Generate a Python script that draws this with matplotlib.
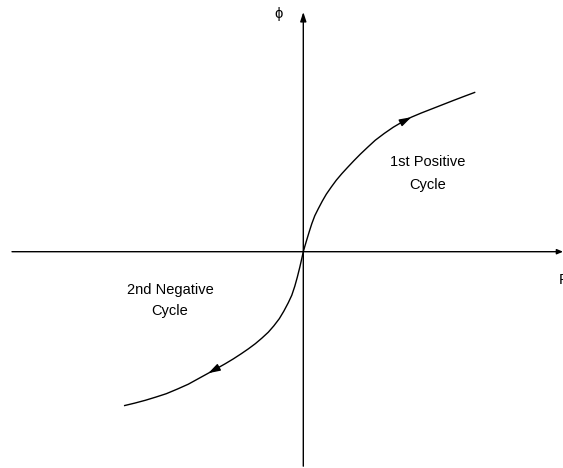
import matplotlib
matplotlib.use("Agg")
import matplotlib.pyplot as plt

plt.rcParams['font.family'] = ['Liberation Sans', 'DejaVu Sans']

# Magnetisation curve: flux (phi) against magnetomotive force (F)
pos_F = [0, 1.5, 3.5, 6, 8.5, 11.5, 15, 19, 23, 28, 33, 38.5, 44, 50.5, 57, 64.5,
         72, 81, 90, 99, 108, 118, 128, 139, 150, 161, 172]
pos_phi = [0, 5.3, 12, 20.2, 28, 36, 43, 50.6, 57.5, 64.7, 71.5, 78, 84, 90.9, 97.5, 104.6,
           111.5, 118.3, 124.5, 129.8, 134.5, 138.7, 142.6, 146.9, 151.2, 155.4, 159.5]

neg_F = [0, -1.5, -3.5, -6, -8.5, -11.5, -15, -19.5, -24, -29.5, -35, -41.5, -48, -55,
         -62, -70, -78, -86.5, -95, -105, -115, -126, -137, -147.5, -158, -168.5, -179.3]
neg_phi = [0, -6.8, -15.5, -25.5, -34.5, -43.5, -51, -59.5, -67, -74.2, -80.5, -86.5, -92,
           -97.2, -102, -107.2, -112, -116.8, -121.5, -127, -132.5, -137.4, -142, -145.4,
           -148.6, -151.4, -154]

# Direction markers (index of the point the arrow tip sits on)
pos_arrow_idx = 20
neg_arrow_idx = 18

labels = ["1st Positive\nCycle", "2nd Negative\nCycle"]
axis_labels = ["F", "\u03d5"]

fig = plt.figure(figsize=(5.63, 4.68), dpi=100)
ax = fig.add_axes([0, 0, 1, 1])
ax.set_xlim(-303.3, 259.7)
ax.set_ylim(-216.3, 251.7)
ax.axis('off')

lw = 1.0
# Axes with arrowheads
ax.annotate("", xy=(259.7, 0), xytext=(-291.3, 0),
            arrowprops=dict(arrowstyle="-|>,head_length=0.35,head_width=0.15",
                            lw=lw, color='black', shrinkA=0, shrinkB=0))
ax.annotate("", xy=(0, 239.7), xytext=(0, -214.5),
            arrowprops=dict(arrowstyle="-|>,head_length=0.55,head_width=0.18",
                            lw=lw, color='black', shrinkA=0, shrinkB=0))

# Curve branches
ax.plot(pos_F, pos_phi, color='black', lw=lw, solid_capstyle='butt')
ax.plot(neg_F, neg_phi, color='black', lw=lw, solid_capstyle='butt')

# Direction arrows along the curve
for F, P, i in ((pos_F, pos_phi, pos_arrow_idx), (neg_F, neg_phi, neg_arrow_idx)):
    ax.annotate("", xy=(F[i], P[i]), xytext=(F[i - 1], P[i - 1]),
                arrowprops=dict(arrowstyle="-|>,head_length=0.7,head_width=0.22",
                                lw=lw, color='black', shrinkA=0, shrinkB=0))

ax.text(124.7, 78.2, labels[0], ha='center', va='center', fontsize=10.5,
        linespacing=1.9, multialignment='center')
ax.text(-133.3, -48.8, labels[1], ha='center', va='center', fontsize=10.5,
        linespacing=1.6, multialignment='center')

ax.text(255.7, -28.3, axis_labels[0], ha='left', va='center', fontsize=10.5)
ax.text(-24.8, 237.7, axis_labels[1], ha='center', va='center', fontsize=10.5)

fig.savefig("out.png", dpi=100)
